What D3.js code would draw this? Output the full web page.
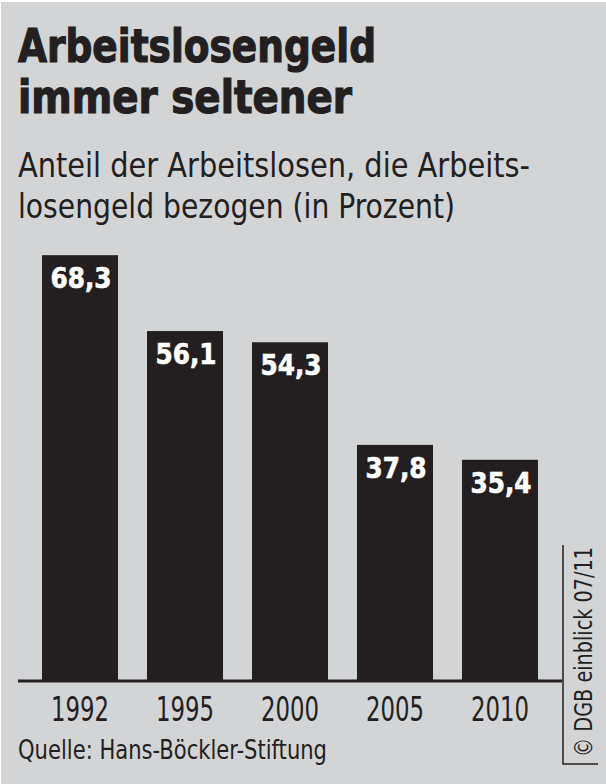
<!DOCTYPE html>
<html><head><meta charset="utf-8">
<script src="https://cdn.jsdelivr.net/npm/d3@7"></script>
<style>html,body{margin:0;padding:0;background:#fff;}svg{display:block;}</style>
</head><body>
<script>
const years = ["1992", "1995", "2000", "2005", "2010"];
const values = [68.3, 56.1, 54.3, 37.8, 35.4];
const labels = ["68,3", "56,1", "54,3", "37,8", "35,4"];
const titleLines = ["Arbeitslosengeld", "immer seltener"];
const subtitleLines = ["Anteil der Arbeitslosen, die Arbeits-", "losengeld bezogen (in Prozent)"];
const source = "Quelle: Hans-Böckler-Stiftung";
const credit = "© DGB einblick 07/11";

const W = 606, H = 784;
const INK = "#231f20", BG = "#d3d4d6";
const boldFont = "'DejaVu Sans Condensed', 'DejaVu Sans', sans-serif";
const regFont = "'Liberation Sans Narrow', 'DejaVu Sans Condensed', sans-serif";

const svg = d3.select("body").append("svg").attr("width", W).attr("height", H);
svg.append("rect").attr("x", 1).attr("y", 2).attr("width", W - 1).attr("height", H - 2).attr("fill", BG);

function fit(sel, len) { sel.attr("textLength", len).attr("lengthAdjust", "spacingAndGlyphs"); return sel; }

// Title
const titleW = [358, 334];
titleLines.forEach((t, i) => {
  fit(svg.append("text").attr("x", 18).attr("y", 62 + i * 51)
    .attr("font-family", boldFont).attr("font-weight", 700).attr("font-size", 47)
    .attr("fill", INK).attr("stroke", INK).attr("stroke-width", 1.2)
    .text(t), titleW[i]);
});
// Subtitle
const subW = [512, 437];
subtitleLines.forEach((t, i) => {
  fit(svg.append("text").attr("x", 18).attr("y", 177 + i * 41)
    .attr("font-family", regFont).attr("font-size", 34)
    .attr("fill", INK).text(t), subW[i]);
});

// Scales
const x = d3.scaleBand().domain(years).range([42, 538]).paddingInner(0.276).paddingOuter(0);
const y = d3.scaleLinear().domain([0, 100]).range([680, 58]);

// Bars
svg.append("g").selectAll("rect").data(years).join("rect")
  .attr("x", d => x(d)).attr("width", x.bandwidth())
  .attr("y", (d, i) => y(values[i])).attr("height", (d, i) => y(0) - y(values[i]))
  .attr("fill", INK);

// Value labels
svg.append("g").selectAll("text").data(years).join("text")
  .attr("x", d => x(d) + x.bandwidth() / 2 + 1)
  .attr("y", (d, i) => y(values[i]) + 33)
  .attr("text-anchor", "middle")
  .attr("font-family", boldFont).attr("font-weight", 700).attr("font-size", 28)
  .attr("fill", "#ffffff").attr("stroke", "#ffffff").attr("stroke-width", 0.6)
  .attr("textLength", 61).attr("lengthAdjust", "spacingAndGlyphs")
  .text((d, i) => labels[i]);

// Baseline
svg.append("line").attr("x1", 18).attr("x2", 562).attr("y1", y(0) + 1).attr("y2", y(0) + 1)
  .attr("stroke", INK).attr("stroke-width", 3);

// Axis labels
const axis = svg.append("g").attr("transform", `translate(0,${y(0)})`)
  .call(d3.axisBottom(x).tickSize(0).tickPadding(0));
axis.select(".domain").remove();
axis.selectAll("text")
  .attr("y", 41).attr("dy", null)
  .attr("font-family", regFont).attr("font-size", 33).attr("fill", INK)
  .attr("textLength", 58).attr("lengthAdjust", "spacingAndGlyphs");

// Source
fit(svg.append("text").attr("x", 18).attr("y", 759)
  .attr("font-family", regFont).attr("font-size", 26).attr("fill", INK).text(source), 309);

// Credit (rotated) with L-shaped rule
svg.append("text").attr("transform", "translate(592,757) rotate(-90)")
  .attr("font-family", regFont).attr("font-size", 25).attr("fill", INK)
  .attr("textLength", 210).attr("lengthAdjust", "spacingAndGlyphs")
  .text(credit);
svg.append("path").attr("d", "M563,545 V764 H598").attr("fill", "none")
  .attr("stroke", INK).attr("stroke-width", 1.5);
</script>
</body></html>
